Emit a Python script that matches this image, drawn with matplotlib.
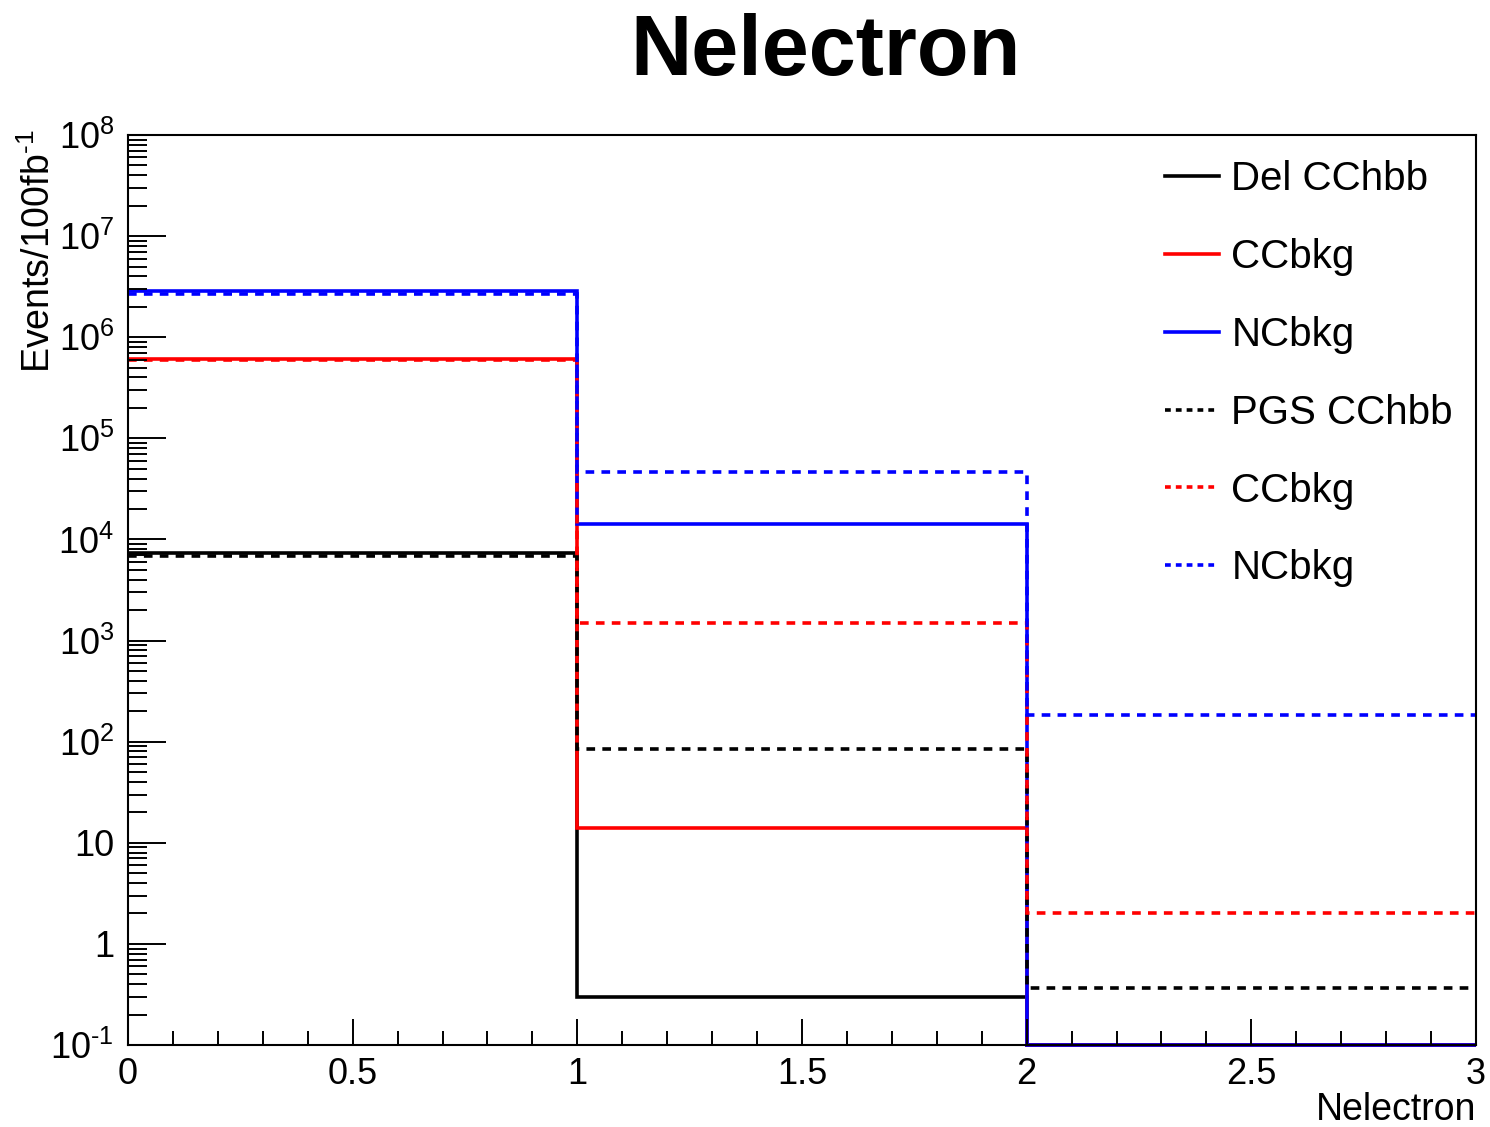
import numpy as np
import matplotlib
matplotlib.use("Agg")
import matplotlib.pyplot as plt
from matplotlib.ticker import FixedLocator, FixedFormatter, MultipleLocator, NullFormatter

plt.rcParams['font.family'] = ['Liberation Sans', 'DejaVu Sans']
plt.rcParams['mathtext.fontset'] = 'custom'
plt.rcParams['mathtext.rm'] = 'Liberation Sans'
plt.rcParams['mathtext.it'] = 'Liberation Sans:italic'
plt.rcParams['mathtext.bf'] = 'Liberation Sans:bold'
plt.rcParams['axes.unicode_minus'] = False

# ---- data ----
bin_edges = [0, 1, 2, 3]
del_cchbb = [7.3e3, 0.30, 0.0]
del_ccbkg = [6.1e5, 14.0, 0.0]
del_ncbkg = [2.85e6, 1.42e4, 0.0]
pgs_cchbb = [6.9e3, 84.0, 0.37]
pgs_ccbkg = [5.9e5, 1.49e3, 2.0]
pgs_ncbkg = [2.67e6, 4.6e4, 183.0]

labels = ["Del CChbb", "CCbkg", "NCbkg", "PGS CChbb", "CCbkg", "NCbkg"]
colors = ["black", "#ff0000", "#0000ff", "black", "#ff0000", "#0000ff"]
styles = ["solid", "solid", "solid", "dashed", "dashed", "dashed"]
series = [del_cchbb, del_ccbkg, del_ncbkg, pgs_cchbb, pgs_ccbkg, pgs_ncbkg]

y_tick_vals = [1e-1, 1, 10, 1e2, 1e3, 1e4, 1e5, 1e6, 1e7, 1e8]
y_tick_labels = ["$10^{\u20101}$", "1", "10", r"$10^{2}$", r"$10^{3}$", r"$10^{4}$",
                 r"$10^{5}$", r"$10^{6}$", r"$10^{7}$", r"$10^{8}$"]

YMIN, YMAX = 1e-1, 1e8

fig = plt.figure(figsize=(14.9, 11.27), dpi=100)
ax = fig.add_axes([128/1490, 1-1045/1127, (1476-128)/1490, (1045-135)/1127])

dash = (0, (2.4, 2.0))
for vals, lab, col, st in zip(series, labels, colors, styles):
    v = np.clip(np.array(vals, dtype=float), YMIN, None)
    ls = '-' if st == 'solid' else dash
    ax.stairs(v, bin_edges, baseline=None, color=col, linewidth=2.6,
              linestyle=ls, clip_on=False, label=lab)

ax.set_yscale('log')
ax.set_xlim(0, 3)
ax.set_ylim(YMIN, YMAX)

ax.yaxis.set_major_locator(FixedLocator(y_tick_vals))
ax.yaxis.set_major_formatter(FixedFormatter(y_tick_labels))
minor = [m * 10.0**e for e in range(-1, 8) for m in range(2, 10)]
ax.yaxis.set_minor_locator(FixedLocator(minor))
ax.yaxis.set_minor_formatter(NullFormatter())

ax.xaxis.set_major_locator(MultipleLocator(0.5))
ax.xaxis.set_minor_locator(MultipleLocator(0.1))
ax.xaxis.set_major_formatter(matplotlib.ticker.FuncFormatter(
    lambda x, p: ('%g' % x)))

ax.tick_params(axis='both', which='both', direction='in', top=False, right=False,
               width=1.4, labelsize=26)
ax.tick_params(axis='y', which='major', length=27, pad=10)
ax.tick_params(axis='y', which='minor', length=14)
ax.tick_params(axis='x', which='major', length=19, pad=9)
ax.tick_params(axis='x', which='minor', length=10)
for s in ax.spines.values():
    s.set_linewidth(1.5)

ax.set_xlabel("Nelectron", fontsize=27, loc='right')
ax.xaxis.set_label_coords(1.0, -0.052)
ax.xaxis.label.set_va('top')
ax.set_ylabel("Events/100fb$^{\u20101}$", fontsize=27, loc='top')
ax.yaxis.set_label_coords(-0.052, 1.006)

fig.text(826/1490, 1-53/1127, "Nelectron", fontsize=61, fontweight='bold',
         ha='center', va='center')

leg = ax.legend(handles=[matplotlib.lines.Line2D([], [], color=c, lw=2.6,
                                                 linestyle=('-' if s == 'solid' else (0, (1.6, 1.4))))
                         for c, s in zip(colors, styles)],
                labels=labels, loc='upper left', bbox_to_anchor=(1165/1490, 1-160/1127),
                bbox_transform=fig.transFigure, frameon=False, fontsize=29,
                handlelength=1.35, handletextpad=0.3, labelspacing=0.99, borderpad=0,
                borderaxespad=0)

fig.savefig("out.png", dpi=100)
